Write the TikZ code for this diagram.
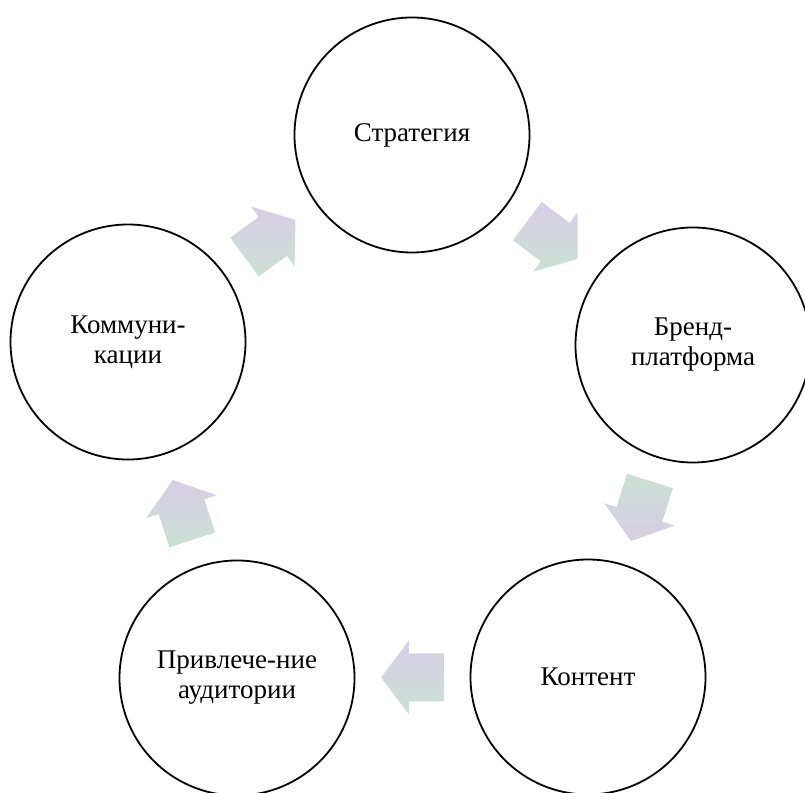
\documentclass[tikz,border=0pt]{standalone}
\usepackage{fontspec}
\setmainfont{Liberation Serif}
\usetikzlibrary{calc}
\definecolor{lav}{RGB}{216,206,228}
\definecolor{mint}{RGB}{204,224,212}
\tikzset{
  stagecircle/.style={circle, draw=black, line width=1.8pt, minimum size=235pt,
    inner sep=0pt, align=center, font=\fontsize{27}{30}\selectfont},
  arrowpv/.style={top color=lav, bottom color=mint, draw=none},
  arrowvp/.style={top color=mint, bottom color=lav, draw=none}
}
\newcommand{\cyclearrow}[3]{%
  \pgfmathanglebetweenpoints{\pgfpointanchor{#1}{center}}{\pgfpointanchor{#2}{center}}%
  \let\myarrowangle\pgfmathresult
  \path[#3, shift={($(#1)!0.5!(#2)$)}, rotate=\myarrowangle]
    (-31.5,-24) -- (3.5,-24) -- (3.5,-37) -- (31.5,0) -- (3.5,37) -- (3.5,24) -- (-31.5,24) -- cycle;
}
\begin{document}
\begin{tikzpicture}[x=1pt,y=1pt]
  \useasboundingbox (0,0) rectangle (805,792);
  \clip (0,0) rectangle (805,792);
  \node[stagecircle] (S) at (412,657) {Стратегия};
  \node[stagecircle] (B) at (693,447) {Бренд-\\платформа};
  \node[stagecircle] (K) at (588,115) {Контент};
  \node[stagecircle] (P) at (237,114) {Привлече-ние\\аудитории};
  \node[stagecircle] (M) at (128,450) {Коммуни-\\кации};
  \cyclearrow{S}{B}{arrowpv}
  \cyclearrow{B}{K}{arrowvp}
  \cyclearrow{K}{P}{arrowpv}
  \cyclearrow{P}{M}{arrowpv}
  \cyclearrow{M}{S}{arrowpv}
\end{tikzpicture}
\end{document}
